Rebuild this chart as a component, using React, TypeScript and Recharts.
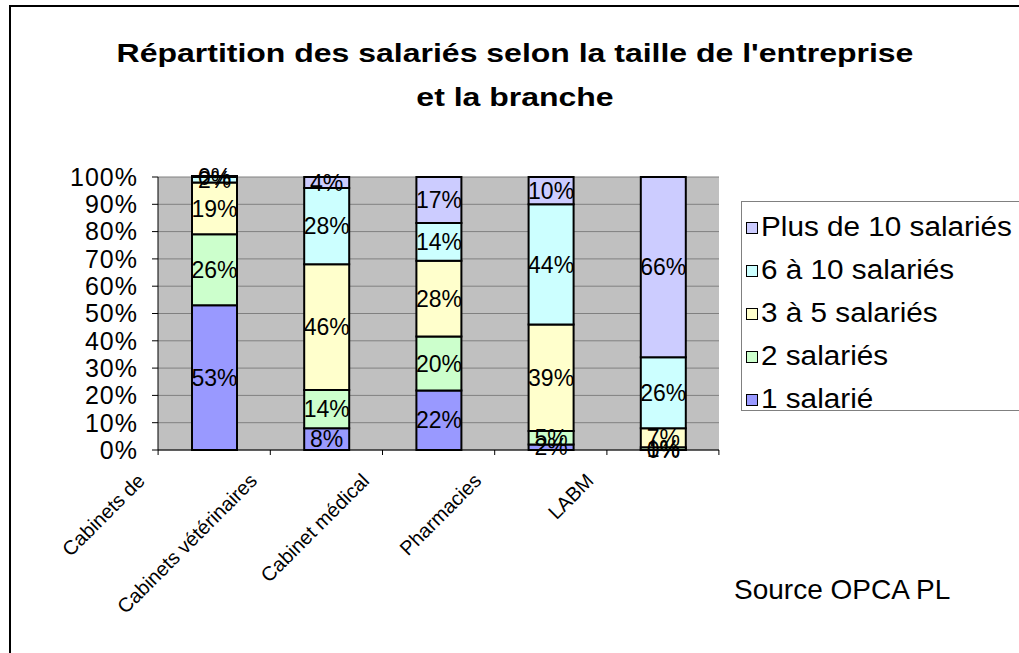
import { Bar, BarChart, CartesianGrid, LabelList, Legend, XAxis, YAxis } from 'recharts';

const branches = ['Cabinets de', 'Cabinets vétérinaires', 'Cabinet médical', 'Pharmacies', 'LABM'];

const unSalarie = [53, 8, 22, 2, 0];
const deuxSalaries = [26, 14, 20, 5, 1];
const troisACinq = [19, 46, 28, 39, 7];
const sixADix = [2, 28, 14, 44, 26];
const plusDeDix = [0, 4, 17, 10, 66];

const yTicks = [0, 0.1, 0.2, 0.3, 0.4, 0.5, 0.6, 0.7, 0.8, 0.9, 1];

const series = [
  { key: 'un', name: '1 salarié', color: '#9999FF', values: unSalarie },
  { key: 'deux', name: '2 salariés', color: '#CCFFCC', values: deuxSalaries },
  { key: 'trois', name: '3 à 5 salariés', color: '#FFFFCC', values: troisACinq },
  { key: 'six', name: '6 à 10 salariés', color: '#CCFFFF', values: sixADix },
  { key: 'plus', name: 'Plus de 10 salariés', color: '#CCCCFF', values: plusDeDix }
];

const data = branches.map((branche, i) => {
  const row: Record<string, string | number> = { branche };
  series.forEach((s) => {
    row[s.key] = s.values[i];
  });
  return row;
});

const FONT = '"Liberation Sans", Arial, sans-serif';
const HALF_BAND = 56;

function BrancheTick(props: any) {
  const { x, y, payload, index } = props;
  return (
    <g>
      <line x1={x - HALF_BAND} y1={y - 8} x2={x - HALF_BAND} y2={y - 3} stroke="#000" />
      {index === branches.length - 1 && (
        <line x1={x + HALF_BAND} y1={y - 8} x2={x + HALF_BAND} y2={y - 3} stroke="#000" />
      )}
      <text
        x={x - 68}
        y={y + 24}
        textAnchor="end"
        fontSize={20}
        fontFamily={FONT}
        fill="#000"
        transform={`rotate(-45, ${x - 68}, ${y + 24})`}
      >
        {payload.value}
      </text>
    </g>
  );
}

function LegendBox() {
  return (
    <div
      style={{
        border: '1px solid #808080',
        width: 300,
        height: 210,
        boxSizing: 'border-box',
        padding: '4px 0 0 4px',
        fontFamily: FONT,
        fontSize: 27,
        background: '#fff'
      }}
    >
      {series
        .slice()
        .reverse()
        .map((s) => (
          <div key={s.key} style={{ display: 'flex', alignItems: 'center', height: 43 }}>
            <span
              style={{
                display: 'inline-block',
                width: 10,
                height: 10,
                background: s.color,
                border: '1.5px solid #000',
                marginRight: 3
              }}
            />
            <span style={{ display: 'inline-block', transform: 'scaleX(1.1)', transformOrigin: 'left center' }}>
              {s.name}
            </span>
          </div>
        ))}
    </div>
  );
}

export default function App() {
  return (
    <div style={{ position: 'absolute', left: 0, top: 0, width: 1019, height: 653, overflow: 'hidden', background: '#fff' }}>
      <div
        style={{
          position: 'absolute',
          left: 9,
          top: 5,
          width: 1100,
          height: 700,
          borderLeft: '2px solid #000',
          borderTop: '2px solid #000'
        }}
      />
      <div
        style={{
          position: 'absolute',
          left: 0,
          top: 40,
          width: 1030,
          textAlign: 'center',
          fontFamily: FONT,
          fontWeight: 'bold',
          fontSize: 26,
          transform: 'scaleX(1.23)',
          transformOrigin: '515px 0'
        }}
      >
        <div style={{ height: 44, lineHeight: '26px' }}>Répartition des salariés selon la taille de l'entreprise</div>
        <div style={{ height: 44, lineHeight: '26px' }}>et la branche</div>
      </div>
      <div
        style={{
          position: 'absolute',
          left: 734,
          top: 576,
          fontFamily: FONT,
          fontSize: 28,
          lineHeight: '28px'
        }}
      >
        Source OPCA PL
      </div>
      <div style={{ position: 'absolute', left: 0, top: 0 }}>
        <BarChart
          width={1019}
          height={653}
          data={data}
          stackOffset="expand"
          margin={{ top: 177, right: 300, bottom: 173, left: 78 }}
          barSize={45}
        >
          <CartesianGrid fill="#C0C0C0" stroke="#808080" vertical={false} />
          <XAxis
            dataKey="branche"
            height={30}
            interval={0}
            tickLine={false}
            axisLine={{ stroke: '#000' }}
            tick={<BrancheTick />}
          />
          <YAxis
            domain={[0, 1]}
            ticks={yTicks}
            interval={0}
            width={80}
            tickSize={6}
            tickMargin={14}
            axisLine={{ stroke: '#000' }}
            tickLine={{ stroke: '#000' }}
            tick={{ fontSize: 25, fontFamily: FONT, fill: '#000', letterSpacing: 1 }}
            tickFormatter={(v: number) => `${Math.round(v * 100)}%`}
          />
          <YAxis
            yAxisId="cadre"
            orientation="right"
            width={0}
            domain={[0, 1]}
            tick={false}
            tickLine={false}
            axisLine={{ stroke: '#808080' }}
          />
          <Legend
            layout="vertical"
            align="center"
            verticalAlign="middle"
            content={<LegendBox />}
            wrapperStyle={{ position: 'absolute', left: 741, top: 201, width: 300 }}
          />
          {series.map((s) => (
            <Bar
              key={s.key}
              dataKey={s.key}
              name={s.name}
              stackId="a"
              fill={s.color}
              stroke="#000"
              strokeWidth={2}
              minPointSize={1}
              isAnimationActive={false}
            >
              <LabelList
                dataKey={s.key}
                position="center"
                fontSize={23}
                fontFamily={FONT}
                fill="#000"
                formatter={(v: any) => `${v}%`}
              />
            </Bar>
          ))}
        </BarChart>
      </div>
    </div>
  );
}
